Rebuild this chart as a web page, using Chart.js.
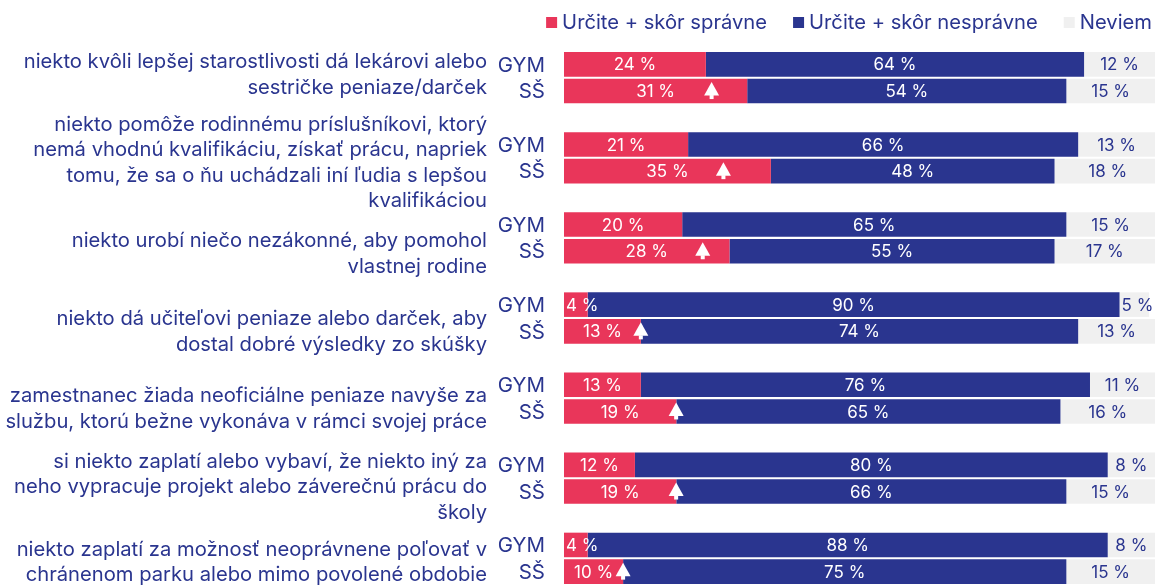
<!DOCTYPE html>
<html>
<head>
<meta charset="utf-8">
<script src="https://cdn.jsdelivr.net/npm/chart.js@4"></script>
<style>
  html, body { margin: 0; padding: 0; background: #fff; }
</style>
</head>
<body>
<canvas id="chart" width="1157" height="585"></canvas>
<script>
// question texts, already broken into lines as in the report
const otazky = [
  ["niekto kvôli lepšej starostlivosti dá lekárovi alebo", "sestričke peniaze/darček"],
  ["niekto pomôže rodinnému príslušníkovi, ktorý", "nemá vhodnú kvalifikáciu, získať prácu, napriek", "tomu, že sa o ňu uchádzali iní ľudia s lepšou", "kvalifikáciou"],
  ["niekto urobí niečo nezákonné, aby pomohol", "vlastnej rodine"],
  ["niekto dá učiteľovi peniaze alebo darček, aby", "dostal dobré výsledky zo skúšky"],
  ["zamestnanec žiada neoficiálne peniaze navyše za", "službu, ktorú bežne vykonáva v rámci svojej práce"],
  ["si niekto zaplatí alebo vybaví, že niekto iný za", "neho vypracuje projekt alebo záverečnú prácu do", "školy"],
  ["niekto zaplatí za možnosť neoprávnene poľovať v", "chránenom parku alebo mimo povolené obdobie"]
];
const skupiny = ["GYM", "SŠ"];
const serie = ["Určite + skôr správne", "Určite + skôr nesprávne", "Neviem"];

const spravneGym = [24, 21, 20, 4, 13, 12, 4];
const spravneSs = [31, 35, 28, 13, 19, 19, 10];
const nespravneGym = [64, 66, 65, 90, 76, 80, 88];
const nespravneSs = [54, 48, 55, 74, 65, 66, 75];
const neviemGym = [12, 13, 15, 5, 11, 8, 8];
const neviemSs = [15, 18, 17, 13, 16, 15, 15];

// layout only: vertical shift of each question text against its pair of bars (px)
const posunTextu = [-3, 5, 16, 14, 11, 9, 4];

const FONT = "Inter, 'Noto Sans', sans-serif";
const NAVY = "#2a358f";
const RED = "#e9365a";
const GREY = "#f0f0f0";

// GYM, SŠ, empty spacer row, GYM, SŠ, ...
let rowLabels = [];
otazky.forEach((q, i) => {
  rowLabels.push(skupiny[0], skupiny[1]);
  if (i < otazky.length - 1) rowLabels.push("");
});
function rows(gym, ss) {
  let out = [];
  gym.forEach((v, i) => {
    out.push(v, ss[i]);
    if (i < gym.length - 1) out.push(null);
  });
  return out;
}

const kresba = {
  id: "kresba",
  afterDatasetsDraw(chart) {
    const ctx = chart.ctx;
    ctx.save();
    ctx.font = "17px " + FONT;
    ctx.textBaseline = "middle";
    chart.data.datasets.forEach((ds, di) => {
      chart.getDatasetMeta(di).data.forEach((bar, i) => {
        if (ds.data[i] == null) return;
        const txt = ds.data[i] + " %";
        const w = ctx.measureText(txt).width;
        ctx.fillStyle = di == 2 ? NAVY : "#fff";
        if (w > bar.x - bar.base - 4) {
          // too narrow: start at the left edge of the segment
          ctx.textAlign = "left";
          ctx.fillText(txt, bar.base + 2, bar.y + 1);
        } else {
          ctx.textAlign = "center";
          ctx.fillText(txt, (bar.x + bar.base) / 2, bar.y + 1);
        }
      });
    });

    // white arrows in the red part of SŠ rows
    const red = chart.getDatasetMeta(0).data;
    rowLabels.forEach((lab, i) => {
      if (lab != skupiny[1]) return;
      const bar = red[i];
      const mid = (bar.x + bar.base) / 2;
      const ax = Math.min(mid + 56, bar.x);
      const y = bar.y;
      ctx.fillStyle = "#fff";
      ctx.beginPath();
      ctx.moveTo(ax, y - 9);
      ctx.lineTo(ax + 7.5, y + 4.5);
      ctx.lineTo(ax - 7.5, y + 4.5);
      ctx.closePath();
      ctx.fill();
      ctx.fillRect(ax - 2, y + 4, 4, 4);
    });
    ctx.restore();
  },
  afterDraw(chart) {
    const ctx = chart.ctx;
    const yScale = chart.scales.y;
    ctx.save();
    ctx.fillStyle = NAVY;
    ctx.textBaseline = "middle";

    // GYM / SŠ
    ctx.font = "20.5px " + FONT;
    ctx.textAlign = "right";
    rowLabels.forEach((lab, i) => {
      if (lab) ctx.fillText(lab, 545, yScale.getPixelForValue(i) + 1);
    });

    // question texts
    ctx.font = "20.2px " + FONT;
    otazky.forEach((lines, q) => {
      const c = (yScale.getPixelForValue(q * 3) + yScale.getPixelForValue(q * 3 + 1)) / 2 + posunTextu[q];
      const lh = 25.5;
      const y0 = c - (lines.length - 1) * lh / 2;
      lines.forEach((t, k) => ctx.fillText(t, 487, y0 + k * lh));
    });

    // legend, right aligned
    ctx.font = "20.2px " + FONT;
    ctx.textAlign = "left";
    const colors = [RED, NAVY, GREY];
    let widths = serie.map((s) => ctx.measureText(s).width);
    let total = widths.reduce((a, b) => a + b, 0) + serie.length * 16 + (serie.length - 1) * 26;
    let x = 1152 - total;
    serie.forEach((s, i) => {
      ctx.fillStyle = colors[i];
      ctx.fillRect(x, 17, 11, 11);
      ctx.fillStyle = NAVY;
      ctx.fillText(s, x + 16, 23);
      x += 16 + widths[i] + 26;
    });
    ctx.restore();
  }
};

new Chart(document.getElementById("chart"), {
  type: "bar",
  data: {
    labels: rowLabels,
    datasets: [
      { label: serie[0], data: rows(spravneGym, spravneSs), backgroundColor: RED },
      { label: serie[1], data: rows(nespravneGym, nespravneSs), backgroundColor: NAVY },
      { label: serie[2], data: rows(neviemGym, neviemSs), backgroundColor: GREY }
    ]
  },
  options: {
    indexAxis: "y",
    responsive: false,
    animation: false,
    layout: { padding: { left: 564, right: 2, top: 51, bottom: 0 } },
    datasets: { bar: { barPercentage: 1, categoryPercentage: 0.92 } },
    scales: {
      x: { stacked: true, min: 0, max: 100, display: false },
      y: { stacked: true, display: false }
    },
    plugins: { legend: { display: false }, tooltip: { enabled: false } }
  },
  plugins: [kresba]
});
</script>
</body>
</html>
